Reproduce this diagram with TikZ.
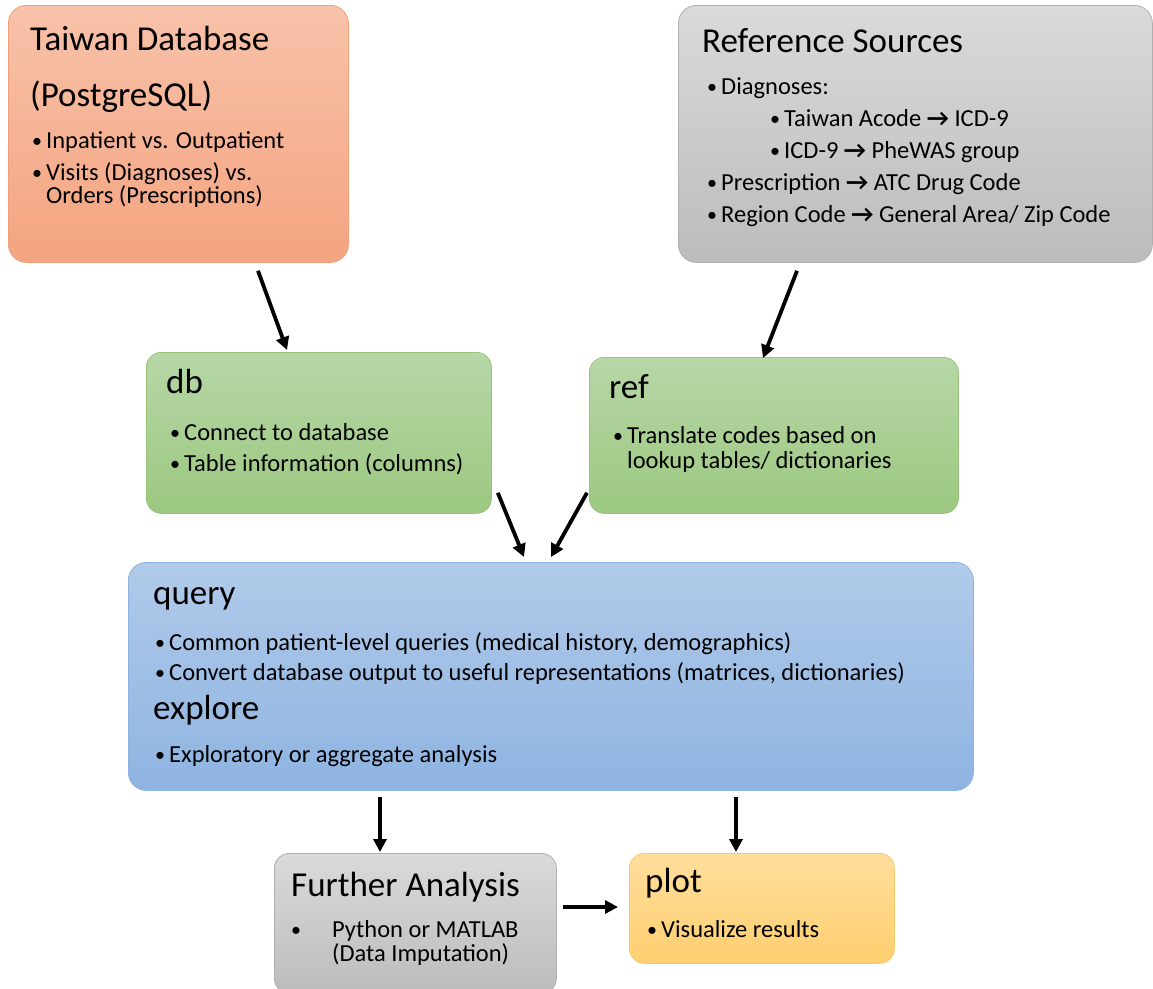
\documentclass[tikz,border=0pt]{standalone}
\usepackage{amsmath}
\usepackage{fontspec}
\setmainfont{Carlito}
\usetikzlibrary{arrows.meta, positioning, calc}

\definecolor{twtop}{RGB}{248,194,170}
\definecolor{twbot}{RGB}{244,164,128}
\definecolor{twline}{RGB}{240,160,120}
\definecolor{gytop}{RGB}{218,218,218}
\definecolor{gybot}{RGB}{188,188,188}
\definecolor{gyline}{RGB}{175,175,175}
\definecolor{grtop}{RGB}{183,215,167}
\definecolor{grbot}{RGB}{156,200,128}
\definecolor{grline}{RGB}{150,196,125}
\definecolor{bltop}{RGB}{177,202,233}
\definecolor{blbot}{RGB}{142,180,226}
\definecolor{blline}{RGB}{140,178,222}
\definecolor{yltop}{RGB}{255,222,156}
\definecolor{ylbot}{RGB}{255,207,112}
\definecolor{ylline}{RGB}{245,200,105}

\newcommand{\bul}[1][14pt]{\makebox[#1][l]{\raisebox{0.5pt}{\fontsize{20}{20}\selectfont •}}}
\newcommand{\ra}{{\bfseries →}}

\begin{document}
\begin{tikzpicture}[x=1pt, y=-1pt,
                    box/.style={rounded corners=18pt, line width=0.8pt, anchor=north west, inner sep=0pt},
                    heading/.style={anchor=base west, inner sep=0pt, font=\fontsize{35}{42}\selectfont},
                    body/.style={anchor=base west, inner sep=0pt, font=\fontsize{24.5}{25}\selectfont},
                    >={Triangle[length=13pt,width=13pt]}, flow/.style={->, line width=3.8pt}]

    \useasboundingbox (0,0) rectangle (1153,988);

    % boxes
    \node[box, draw=twline, top color=twtop, bottom color=twbot,
          minimum width=340, minimum height=257] (tw) at (8,5) {};
    \node[box, draw=gyline, top color=gytop, bottom color=gybot,
          minimum width=474, minimum height=257] (rs) at (678,5) {};
    \node[box, draw=grline, top color=grtop, bottom color=grbot, rounded corners=15pt,
          minimum width=345, minimum height=161] (db) at (146,352) {};
    \node[box, draw=grline, top color=grtop, bottom color=grbot, rounded corners=15pt,
          minimum width=369, minimum height=156] (ref) at (589,357) {};
    \node[box, draw=blline, top color=bltop, bottom color=blbot,
          minimum width=845, minimum height=228] (qry) at (128,562) {};
    \node[box, draw=gyline, top color=gytop, bottom color=gybot, rounded corners=15pt,
          minimum width=282, minimum height=140] (fa) at (274,853) {};
    \node[box, draw=ylline, top color=yltop, bottom color=ylbot, rounded corners=15pt,
          minimum width=265, minimum height=110] (plot) at (629,853) {};

    % texts
    \node[heading] (twhead) at ([shift={(22,45)}]tw.north west)
        {\begin{tabular}[t]{@{}l@{}}Taiwan Database\\[14pt](PostgreSQL)\end{tabular}};
    \node[body] (twbody) at ([shift={(24,143)}]tw.north west)
        {\begin{tabular}[t]{@{}l@{}}\bul Inpatient vs. Outpatient\\[7pt]
         \bul Visits (Diagnoses) vs.\\[-2pt] \hspace{14pt}Orders (Prescriptions)\end{tabular}};

    \node[heading] (rshead) at ([shift={(24,47)}]rs.north west) {Reference Sources};
    \node[body] (rsbody) at ([shift={(29,89)}]rs.north west)
        {\begin{tabular}[t]{@{}l@{}}\bul Diagnoses:\\[7pt]
         \hspace{63pt}\bul Taiwan Acode \ra\ ICD-9\\[7pt]
         \hspace{63pt}\bul ICD-9 \ra\ PheWAS group\\[7pt]
         \bul Prescription \ra\ ATC Drug Code\\[7pt]
         \bul Region Code \ra\ General Area/ Zip Code\end{tabular}};

    \node[heading] (dbhead) at ([shift={(20,41)}]db.north west) {db};
    \node[body] (dbbody) at ([shift={(24,88)}]db.north west)
        {\begin{tabular}[t]{@{}l@{}}\bul Connect to database\\[6pt]
         \bul Table information (columns)\end{tabular}};

    \node[heading] (refhead) at ([shift={(20,41)}]ref.north west) {ref};
    \node[body] (refbody) at ([shift={(24,86)}]ref.north west)
        {\begin{tabular}[t]{@{}l@{}}\bul Translate codes based on\\[0pt]
         \hspace{14pt}lookup tables/ dictionaries\end{tabular}};

    \node[heading] (qryhead) at ([shift={(25,42)}]qry.north west) {query};
    \node[body] (qrybody) at ([shift={(27,88)}]qry.north west)
        {\begin{tabular}[t]{@{}l@{}}\bul Common patient-level queries (medical history, demographics)\\[5pt]
         \bul Convert database output to useful representations (matrices, dictionaries)\end{tabular}};
    \node[heading] (exphead) at ([shift={(25,157)}]qry.north west) {explore};
    \node[body] (expbody) at ([shift={(27,200)}]qry.north west)
        {\bul Exploratory or aggregate analysis};

    \node[heading] (fahead) at ([shift={(17,43)}]fa.north west) {Further Analysis};
    \node[body] (fabody) at ([shift={(17,84)}]fa.north west)
        {\begin{tabular}[t]{@{}l@{}}\bul[41pt]Python or MATLAB\\[-1pt]
         \hspace{41pt}(Data Imputation)\end{tabular}};

    \node[heading] (plothead) at ([shift={(16,39)}]plot.north west) {plot};
    \node[body] (plotbody) at ([shift={(18,84)}]plot.north west) {\bul Visualize results};

    % connectors
    \draw[flow] ([shift={(250,8)}]tw.south west) -- ([shift={(141,-2)}]db.north west);
    \draw[flow] ([shift={(119,8)}]rs.south west) -- ([shift={(174,1)}]ref.north west);
    \draw[flow] ([shift={(6,-21)}]db.south east) -- ([shift={(396,-5)}]qry.north west);
    \draw[flow] ([shift={(-2,-21)}]ref.south west) -- ([shift={(423,-5)}]qry.north west);
    \draw[flow] ([shift={(252,6)}]qry.south west) -- ([shift={(106,-1)}]fa.north west);
    \draw[flow] ([shift={(608,6)}]qry.south west) -- ([shift={(107,-1)}]plot.north west);
    \draw[flow] ([shift={(6,54)}]fa.north east) -- ([shift={(-11,54)}]plot.north west);
\end{tikzpicture}
\end{document}
